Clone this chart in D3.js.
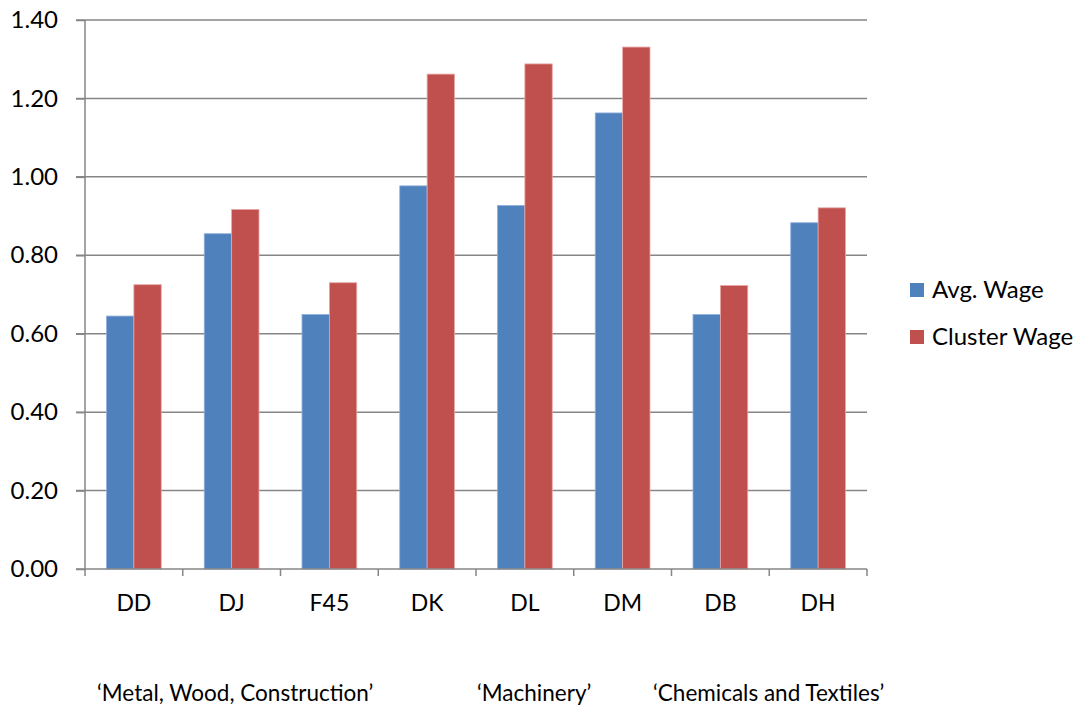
<!DOCTYPE html>
<html>
<head>
<meta charset="utf-8">
<script src="https://cdn.jsdelivr.net/npm/d3@7"></script>
<style>
  body { margin: 0; background: #fff; }
  text { font-family: Lato, "Open Sans", sans-serif; fill: #000; }
</style>
</head>
<body>
<div id="chart"></div>
<script>
// data
var categories = ["DD", "DJ", "F45", "DK", "DL", "DM", "DB", "DH"];
var avgWage = [0.645, 0.855, 0.649, 0.977, 0.927, 1.163, 0.649, 0.883];
var clusterWage = [0.725, 0.917, 0.730, 1.262, 1.288, 1.331, 0.723, 0.921];
var seriesNames = ["Avg. Wage", "Cluster Wage"];
var yTicks = [0, 0.2, 0.4, 0.6, 0.8, 1.0, 1.2, 1.4];
var groupLabels = ["\u2018Metal, Wood, Construction\u2019", "\u2018Machinery\u2019", "\u2018Chemicals and Textiles\u2019"];
var groupLabelX = [97, 477, 653];

var colors = ["#4F81BD", "#C0504D"];

var svgWidth = 1080;
var svgHeight = 708;
var margin = { top: 20, right: 213, bottom: 139, left: 85 };
var width = svgWidth - margin.left - margin.right;
var height = svgHeight - margin.top - margin.bottom;

var svg = d3.select("#chart")
  .append("svg")
  .attr("width", svgWidth)
  .attr("height", svgHeight);

var chartGroup = svg.append("g")
  .attr("transform", `translate(${margin.left}, ${margin.top})`);

var x0 = d3.scaleBand()
  .domain(categories)
  .range([0, width])
  .paddingInner(0.44)
  .paddingOuter(0.22);

var x1 = d3.scaleBand()
  .domain(seriesNames)
  .range([0, x0.bandwidth()]);

var yScale = d3.scaleLinear()
  .domain([0, 1.4])
  .range([height, 0]);

// gridlines
chartGroup.selectAll(".grid")
  .data(yTicks.slice(1))
  .enter()
  .append("line")
  .attr("x1", -9)
  .attr("x2", width)
  .attr("y1", d => yScale(d))
  .attr("y2", d => yScale(d))
  .attr("stroke", "#868686")
  .attr("stroke-width", 1.5);

// bars
var rows = categories.map((c, i) => ({ cat: c, vals: [avgWage[i], clusterWage[i]] }));

var groups = chartGroup.selectAll(".cat")
  .data(rows)
  .enter()
  .append("g")
  .attr("transform", d => `translate(${x0(d.cat)}, 0)`);

groups.selectAll("rect")
  .data(d => d.vals.map((v, j) => ({ name: seriesNames[j], v: v, j: j })))
  .enter()
  .append("rect")
  .attr("x", d => x1(d.name))
  .attr("width", x1.bandwidth())
  .attr("y", d => yScale(d.v))
  .attr("height", d => height - yScale(d.v))
  .attr("fill", d => colors[d.j])
  .attr("stroke", d => d.j == 0 ? "#8fb0dc" : "#e8a8a6")
  .attr("stroke-width", 0.8);

// y axis
var yAxis = d3.axisLeft(yScale)
  .tickValues(yTicks)
  .tickFormat(d3.format(".2f"))
  .tickSize(9)
  .tickPadding(18);

var yG = chartGroup.append("g").call(yAxis);
yG.select(".domain").attr("stroke", "#868686").attr("stroke-width", 1.5).attr("d", `M0,0V${height}`);
yG.selectAll(".tick line").attr("stroke", "#868686").attr("stroke-width", 1.5);
yG.selectAll(".tick text").style("font-size", "24px").attr("fill", "#000");

// x axis
var xG = chartGroup.append("g")
  .attr("transform", `translate(0, ${height})`);

xG.append("line")
  .attr("x1", -9).attr("x2", width)
  .attr("stroke", "#868686").attr("stroke-width", 1.5);

var bandStep = x0.step();
xG.selectAll(".xtick")
  .data(d3.range(categories.length + 1))
  .enter()
  .append("line")
  .attr("x1", i => i * bandStep)
  .attr("x2", i => i * bandStep)
  .attr("y1", 0)
  .attr("y2", 7)
  .attr("stroke", "#868686").attr("stroke-width", 1.5);

xG.selectAll(".xlab")
  .data(categories)
  .enter()
  .append("text")
  .attr("x", d => x0(d) + x0.bandwidth() / 2)
  .attr("y", 42)
  .attr("text-anchor", "middle")
  .style("font-size", "23px")
  .text(d => d);

// group labels underneath
svg.selectAll(".glab")
  .data(groupLabels)
  .enter()
  .append("text")
  .attr("x", (d, i) => groupLabelX[i])
  .attr("y", 701)
  .style("font-size", "22.5px")
  .text(d => d);

// legend
var legend = svg.selectAll(".legend")
  .data(seriesNames)
  .enter()
  .append("g")
  .attr("transform", (d, i) => `translate(910, ${283 + i * 47})`);

legend.append("rect")
  .attr("width", 14)
  .attr("height", 14)
  .attr("fill", (d, i) => colors[i]);

legend.append("text")
  .attr("x", 22)
  .attr("y", 15)
  .style("font-size", "24px")
  .text(d => d);
</script>
</body>
</html>
